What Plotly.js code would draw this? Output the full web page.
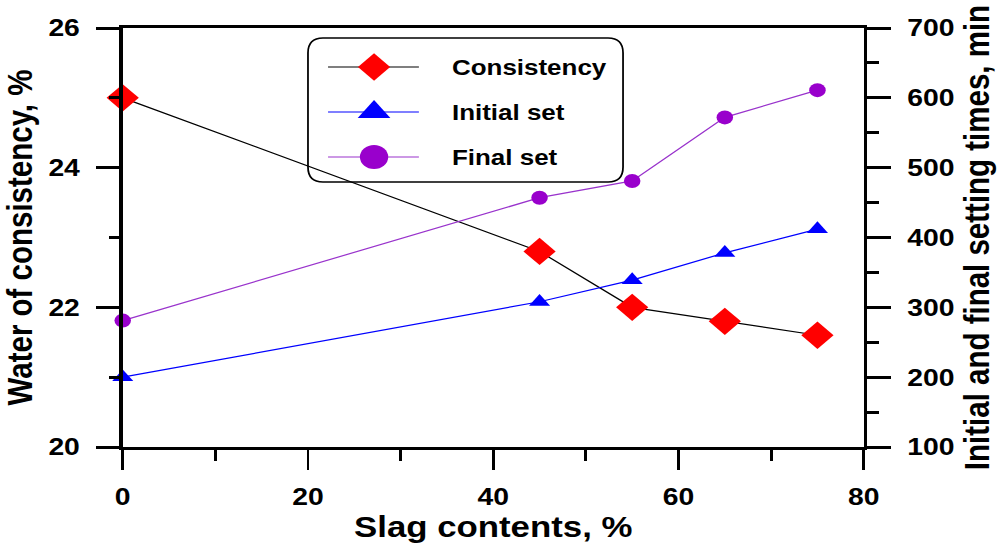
<!DOCTYPE html>
<html>
<head>
<meta charset="utf-8">
<script src="https://cdn.plot.ly/plotly-3.0.1.min.js"></script>
<style>
  html, body { margin: 0; padding: 0; background: #fff; overflow: hidden; }
  #wrap { width: 1000px; height: 543px; overflow: hidden; }
  /* the figure is laid out on a narrower canvas and widened horizontally */
  #chart { width: 848px; height: 543px; transform: scaleX(1.18); transform-origin: 0 0; }
</style>
</head>
<body>
<div id="wrap"><div id="chart"></div></div>
<script>
// Slag replacement level (%)
const slagContent = [0, 45, 55, 65, 75];
// Water of consistency (%)
const consistency = [25.0, 22.8, 22.0, 21.8, 21.6];
// Setting times (min)
const initialSet = [200, 308, 339, 378, 412];
const finalSet = [281, 457, 481, 572, 611];
const seriesNames = ['Consistency', 'Initial set', 'Final set'];

const FONT = 'Liberation Sans, Arial, Helvetica, sans-serif';
const W = 848, H = 543;
const M = { l: 104, r: 116, t: 28, b: 96 };

const styles = [
  { line: '#000000', marker: '#ff0000', symbol: 'diamond', size: 21, legSize: 21 },
  { line: '#0000ff', marker: '#0000ff', symbol: 'triangle-up', size: 15.5, legSize: 24 },
  { line: '#9933cc', marker: '#9900cc', symbol: 'circle', size: 14, legSize: 24 }
];

const traces = [
  { x: slagContent, y: consistency, yaxis: 'y' },
  { x: slagContent, y: initialSet, yaxis: 'y2' },
  { x: slagContent, y: finalSet, yaxis: 'y2' }
].map((t, i) => ({
  type: 'scatter', mode: 'lines+markers', name: seriesNames[i],
  x: t.x, y: t.y, xaxis: 'x', yaxis: t.yaxis, showlegend: false, cliponaxis: false,
  line: { color: styles[i].line, width: 1.2 },
  marker: { symbol: styles[i].symbol, size: styles[i].size, color: styles[i].marker, line: { width: 0 } }
}));

// Key drawn on a hidden pixel-unit overlay (x2 / y3)
const key = { x0: 261, x1: 528, y0: 38, y1: 182, rx: 12.7, ry: 15,
              lineX0: 278, lineX1: 355, markX: 317, textX: 381.4, rows: [67, 112, 157] };
seriesNames.forEach((name, i) => {
  const yr = key.rows[i];
  traces.push({
    type: 'scatter', mode: 'lines', x: [key.lineX0, key.lineX1], y: [yr, yr],
    xaxis: 'x2', yaxis: 'y3', showlegend: false, hoverinfo: 'skip',
    line: { color: styles[i].line, width: 1.2 }
  });
  traces.push({
    type: 'scatter', mode: 'markers', x: [key.markX], y: [yr],
    xaxis: 'x2', yaxis: 'y3', showlegend: false, hoverinfo: 'skip',
    marker: { symbol: styles[i].symbol, size: styles[i].legSize, color: styles[i].marker, line: { width: 0 } }
  });
});

const k = key;
const boxPath =
  `M${k.x0 + k.rx},${k.y0} H${k.x1 - k.rx} Q${k.x1},${k.y0} ${k.x1},${k.y0 + k.ry} ` +
  `V${k.y1 - k.ry} Q${k.x1},${k.y1} ${k.x1 - k.rx},${k.y1} H${k.x0 + k.rx} ` +
  `Q${k.x0},${k.y1} ${k.x0},${k.y1 - k.ry} V${k.y0 + k.ry} Q${k.x0},${k.y0} ${k.x0 + k.rx},${k.y0} Z`;

const tickFont = { family: FONT, size: 24, color: '#000', weight: 'bold' };
const titleFont = { family: FONT, size: 29.5, color: '#000', weight: 'bold' };

const layout = {
  width: W, height: H,
  margin: M,
  paper_bgcolor: '#ffffff',
  plot_bgcolor: 'rgba(0,0,0,0)',
  font: { family: FONT, color: '#000', weight: 'bold' },
  showlegend: false,
  xaxis: {
    domain: [0, 1], anchor: 'y', range: [0, 80], tick0: 0, dtick: 20,
    showgrid: false, zeroline: false,
    showline: true, linecolor: '#000', linewidth: 3, mirror: true,
    ticks: 'outside', ticklen: 20, tickwidth: 2.5, tickcolor: '#000',
    minor: { dtick: 10, ticks: 'outside', ticklen: 11, tickwidth: 2.5, tickcolor: '#000', showgrid: false },
    tickfont: tickFont, ticklabelstandoff: 6,
    title: { text: 'Slag contents, %', font: titleFont, standoff: 3 }
  },
  yaxis: {
    domain: [0, 1], anchor: 'x', range: [20, 26], tick0: 20, dtick: 2,
    showgrid: false, zeroline: false,
    showline: true, linecolor: '#000', linewidth: 3,
    ticks: 'outside', ticklen: 19.5, tickwidth: 3, tickcolor: '#000',
    minor: { dtick: 1, ticks: 'outside', ticklen: 8.5, tickwidth: 3, tickcolor: '#000', showgrid: false },
    tickfont: tickFont, ticklabelstandoff: 9,
    title: { text: 'Water of consistency, %', font: titleFont, standoff: 6 }
  },
  yaxis2: {
    overlaying: 'y', side: 'right', anchor: 'x', range: [100, 700], tick0: 100, dtick: 100,
    showgrid: false, zeroline: false,
    showline: true, linecolor: '#000', linewidth: 3,
    ticks: 'outside', ticklen: 20, tickwidth: 3, tickcolor: '#000',
    minor: { dtick: 50, ticks: 'outside', ticklen: 10, tickwidth: 3, tickcolor: '#000', showgrid: false },
    tickfont: tickFont, ticklabelstandoff: 9,
    title: { text: 'Initial and final setting times, min', font: titleFont, standoff: 10 }
  },
  xaxis2: { domain: [0, 1], anchor: 'y3', range: [M.l, W - M.r], visible: false, fixedrange: true },
  yaxis3: { domain: [0, 1], anchor: 'x2', range: [H - M.b, M.t], visible: false, fixedrange: true },
  shapes: [{
    type: 'path', xref: 'x2', yref: 'y3', path: boxPath, layer: 'above',
    line: { color: '#000', width: 1.5 }, fillcolor: 'rgba(0,0,0,0)'
  }],
  annotations: seriesNames.map((name, i) => ({
    xref: 'x2', yref: 'y3', x: key.textX, y: key.rows[i], text: name,
    xanchor: 'left', yanchor: 'middle', showarrow: false,
    font: { family: FONT, size: 22, color: '#000', weight: 'bold' }
  }))
};

Plotly.newPlot('chart', traces, layout, { displayModeBar: false, staticPlot: true });
</script>
</body>
</html>
